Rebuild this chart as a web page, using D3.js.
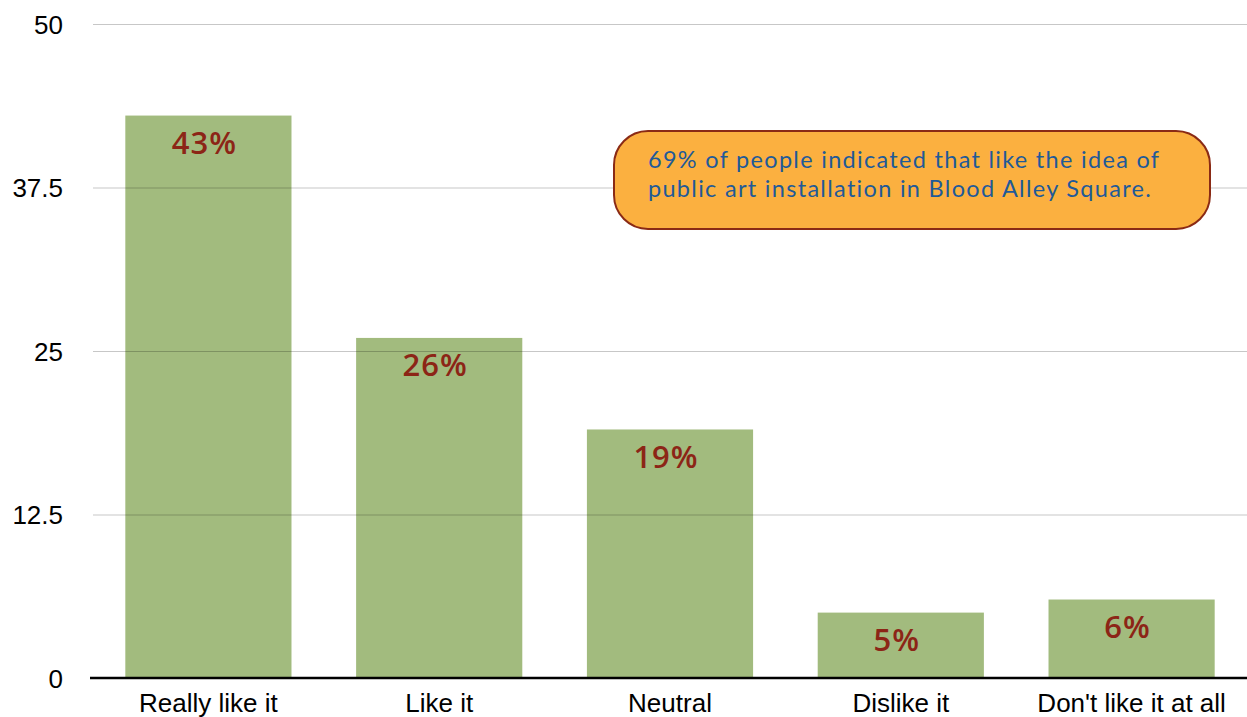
<!DOCTYPE html>
<html><head><meta charset="utf-8">
<script src="https://cdn.jsdelivr.net/npm/d3@7"></script>
<style>html,body{margin:0;padding:0;background:#fff;overflow:hidden}</style>
</head><body><svg id="c" width="1247" height="717"></svg>
<script>
const categories = ["Really like it","Like it","Neutral","Dislike it","Don't like it at all"];
const values = [43, 26, 19, 5, 6];
const valueLabels = ["43%","26%","19%","5%","6%"];
const yTicks = [0, 12.5, 25, 37.5, 50];
const noteLines = ["69% of people indicated that like the idea of","public art installation in Blood Alley Square."];

const svg = d3.select("#c");
const m = {left: 93, right: 0, top: 24, bottom: 39};
const W = 1247, H = 717;
const x = d3.scaleBand().domain(categories).range([m.left, W - m.right]).paddingInner(0.28).paddingOuter(0.14);
const y = d3.scaleLinear().domain([0, 50]).range([H - m.bottom, m.top]);

// bars
svg.append("g").selectAll("rect").data(values).join("rect")
  .attr("x", (d,i) => x(categories[i]))
  .attr("y", d => y(d))
  .attr("width", x.bandwidth())
  .attr("height", d => y(0) - y(d))
  .attr("fill", "#a2bb7e");

// grid
const grid = svg.append("g").attr("transform", `translate(${m.left},0)`)
  .call(d3.axisLeft(y).tickValues(yTicks.slice(1)).tickSize(-(W - m.left)).tickFormat(""));
grid.select(".domain").remove();
grid.selectAll("line").attr("stroke", "rgba(0,0,0,0.22)").attr("stroke-width", 1);

// y labels
const ya = svg.append("g").attr("transform", `translate(63,0)`)
  .call(d3.axisLeft(y).tickValues(yTicks).tickSize(0).tickPadding(0).tickFormat(d => String(d)));
ya.select(".domain").remove();
ya.selectAll("text").attr("font-family", "Liberation Sans, Arial, sans-serif").attr("font-size", 26).attr("fill", "#000").attr("dy", "0.36em");

// x axis
const xa = svg.append("g").attr("transform", `translate(0,${y(0)})`)
  .call(d3.axisBottom(x).tickSize(0).tickPadding(0));
xa.select(".domain").attr("stroke", "#000").attr("stroke-width", 2.5).attr("d", `M90,0H${W}`);
xa.selectAll("text").attr("font-family", "Liberation Sans, Arial, sans-serif").attr("font-size", 26).attr("fill", "#000")
  .attr("dy", null).attr("y", 34);

// value labels
svg.append("g").selectAll("text").data(values).join("text")
  .attr("x", (d,i) => x(categories[i]) + x.bandwidth()/2 - 4)
  .attr("y", d => y(d) + 27)
  .attr("dy", "0.36em")
  .attr("text-anchor", "middle")
  .attr("font-family", "Open Sans, Lato, sans-serif")
  .attr("font-weight", 600)
  .attr("font-size", 31)
  .attr("letter-spacing", 1)
  .attr("fill", "#8c2516")
  .text((d,i) => valueLabels[i]);

// annotation
const note = svg.append("g");
note.append("rect").attr("x", 614).attr("y", 131).attr("width", 596).attr("height", 98)
  .attr("rx", 34).attr("ry", 34)
  .attr("fill", "#fbb040").attr("stroke", "#8a2a15").attr("stroke-width", 2);
note.selectAll("text").data(noteLines).join("text")
  .attr("x", 648).attr("y", (d,i) => 168 + i*29)
  .attr("font-family", "Lato, Open Sans, sans-serif")
  .attr("font-size", 23.5)
  .attr("letter-spacing", 1.3)
  .attr("fill", "#1f5a98")
  .text(d => d);
</script></body></html>
